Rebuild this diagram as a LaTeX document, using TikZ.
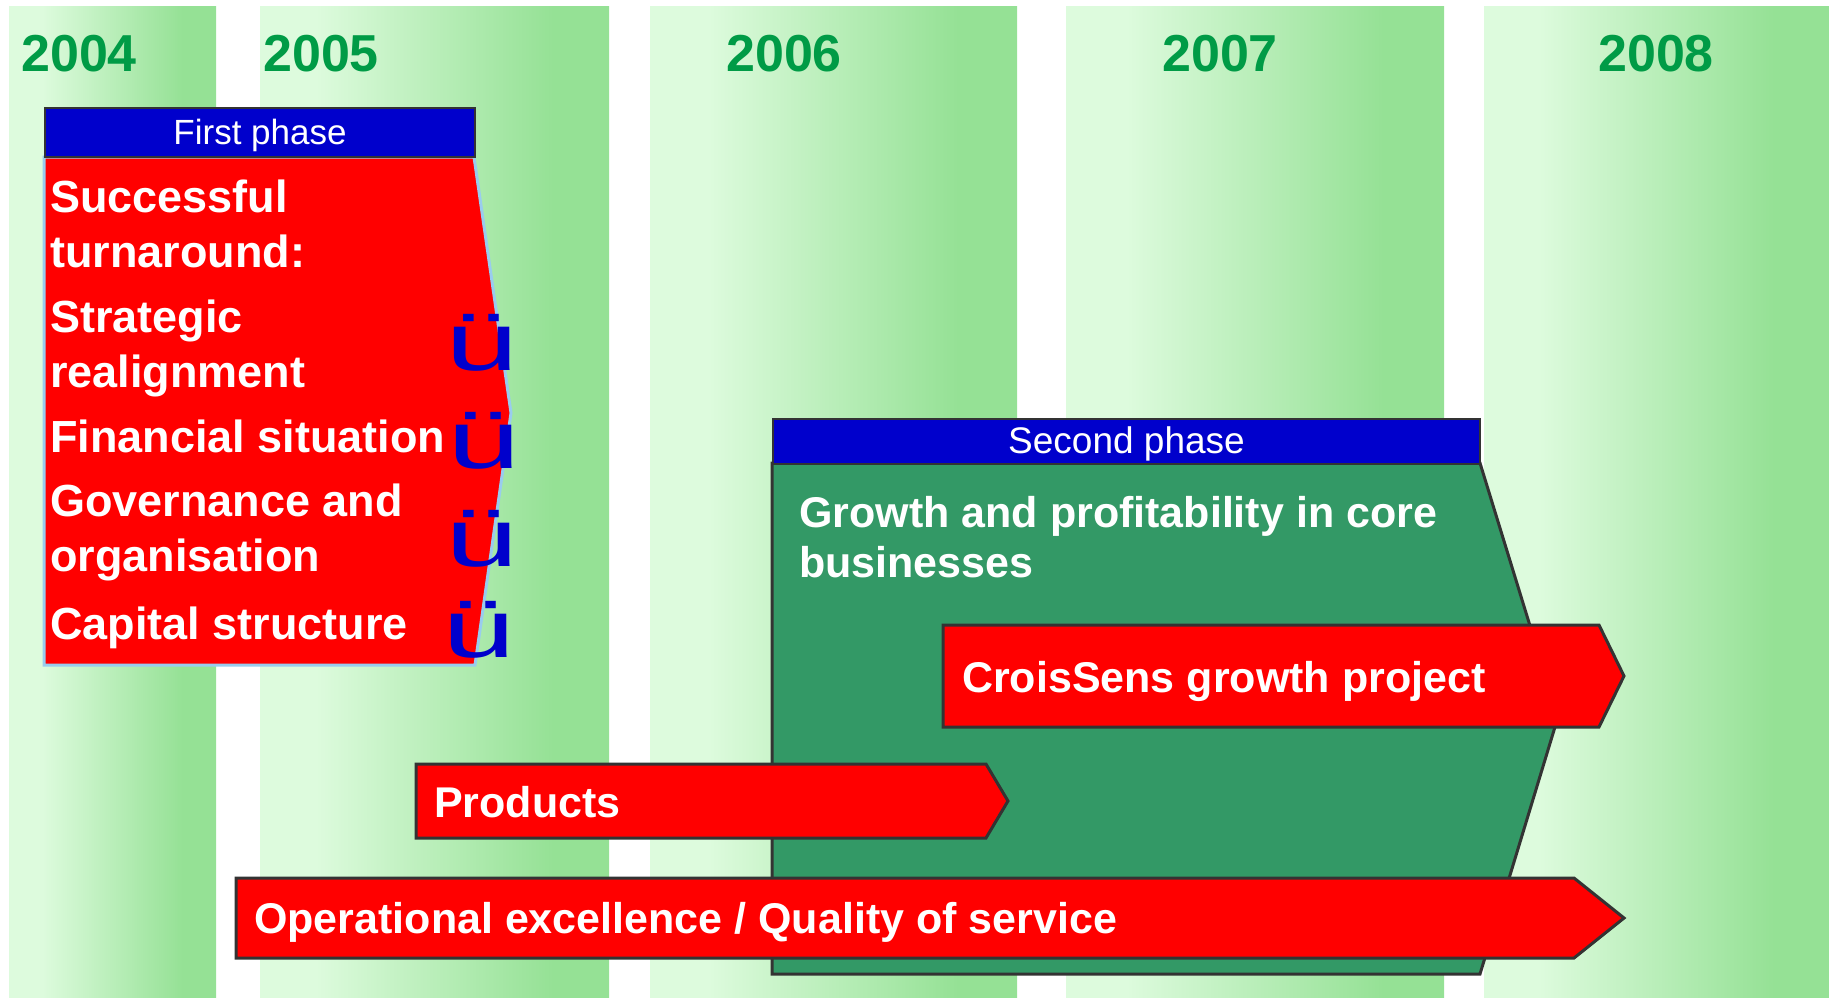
\documentclass[tikz,border=0pt]{standalone}
\usepackage{fontspec}
\setmainfont{Liberation Sans}
\usepackage{graphicx}
\usepackage{xcolor}
\usepackage{tikz}
\usetikzlibrary{positioning}

\definecolor{bandlite}{RGB}{221,251,221}
\definecolor{banddeep}{RGB}{149,225,149}
\definecolor{yeargreen}{RGB}{0,155,70}
\definecolor{phaseblue}{RGB}{0,0,204}
\definecolor{barred}{RGB}{255,0,0}
\definecolor{coregreen}{RGB}{51,153,102}
\definecolor{outlinegray}{RGB}{51,51,51}
\definecolor{phaseedge}{RGB}{153,204,238}
\pgfdeclarehorizontalshading{bandshade}{100bp}{color(0bp)=(bandlite); color(33bp)=(bandlite); color(67bp)=(banddeep); color(100bp)=(banddeep)}

\begin{document}
\begin{tikzpicture}[
	x=1pt, y=-1pt,
	line join=miter,
	every node/.style={inner sep=0pt}
]
\tikzset{
    yearband/.style = {shading=bandshade},
    yearlabel/.style = {anchor=base west, text=yeargreen, font=\bfseries\fontsize{52}{52}\selectfont},
    phasehead/.style = {draw=outlinegray, line width=2pt, fill=phaseblue, text=white, anchor=north west, text depth=2pt, font=\fontsize{35}{35}\selectfont},
    bartext/.style = {anchor=base west, text=white, align=left, font=\bfseries\fontsize{43}{50}\selectfont},
    firsttext/.style = {bartext, font=\bfseries\fontsize{45}{55}\selectfont},
    redbar/.style = {draw=outlinegray, line width=3pt, fill=barred},
    okmark/.style = {anchor=base, text=phaseblue, font=\fontsize{82}{82}\selectfont}
}
\useasboundingbox (0,0) rectangle (1829,997);

% year columns
\foreach \yr/\xa/\xb/\xt in {2004/9/216/21, 2005/260/609/263, 2006/650/1017/726, 2007/1066/1444/1162, 2008/1484/1829/1598}{
    \shade[yearband] (\xa,6) rectangle (\xb,997);
    \node[yearlabel] (y\yr) at (\xt,71) {\yr};
}

% second phase (multi-line nodes sit on their last baseline)
\draw[draw=outlinegray, line width=3pt, fill=coregreen] (772,463) -- (1480,463) -- (1558,717) -- (1480,974) -- (772,974) -- cycle;
\node[phasehead, minimum width=707, minimum height=45, font=\fontsize{37}{37}\selectfont] (head2) at (772,418) {Second phase};
\node[bartext] (core) at (799,577) {Growth and profitability in core\\businesses};

% first phase
\draw[phaseedge, line width=3pt, fill=barred] (44,157) -- (474,157) -- (511,413) -- (475,665) -- (44,665) -- cycle;
\node[phasehead, minimum width=430, minimum height=49] (head1) at (44,107) {First phase};
\node[firsttext] (turn) at (50,267) {Successful\\turnaround:};
\node[firsttext] (strat) at (50,387) {Strategic\\realignment};
\node[firsttext] (fin) at (50,452) {Financial situation};
\node[firsttext] (gov) at (50,571) {Governance and\\organisation};
\node[firsttext] (cap) at (50,639) {Capital structure};
\node[okmark] (ok1) at (482,370) {\scalebox{1.6}[1]{ü}};
\node[okmark] (ok2) at (484,468) {\scalebox{1.6}[1]{ü}};
\node[okmark] (ok3) at (482,566) {\scalebox{1.6}[1]{ü}};
\node[okmark] (ok4) at (479,657) {\scalebox{1.6}[1]{ü}};

% bars
\draw[redbar] (943,625) -- (1599,625) -- (1624,676) -- (1599,727) -- (943,727) -- cycle;
\node[bartext] (crois) at (962,692) {CroisSens growth project};
\draw[redbar] (416,764) -- (986,764) -- (1008,801) -- (986,838) -- (416,838) -- cycle;
\node[bartext] (prod) at (434,817) {Products};
\draw[redbar] (236,878) -- (1574,878) -- (1624,918) -- (1574,958) -- (236,958) -- cycle;
\node[bartext] (opex) at (254,933) {Operational excellence / Quality of service};
\end{tikzpicture}
\end{document}
